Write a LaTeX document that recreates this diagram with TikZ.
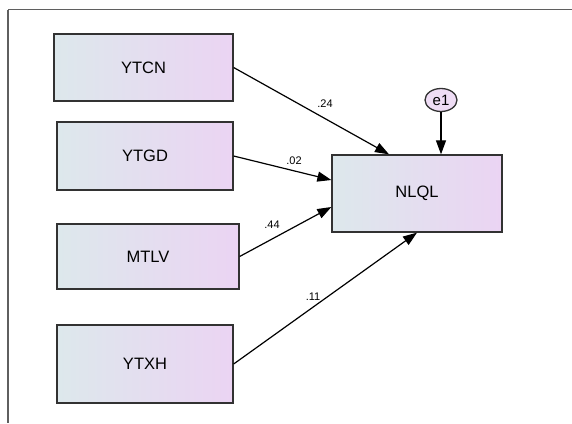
\documentclass[tikz,border=0pt]{standalone}
\usepackage{fontspec}
\setmainfont{Liberation Sans}
\usetikzlibrary{arrows.meta,shapes.geometric}
\definecolor{shadeL}{RGB}{221,232,236}
\definecolor{shadeR}{RGB}{235,212,243}
\definecolor{edgegray}{RGB}{50,50,50}
\definecolor{framegray}{RGB}{95,95,95}
\tikzset{
  varbox/.style={draw=edgegray, line width=1.3pt, left color=shadeL, right color=shadeR,
    shading angle=90, inner sep=0pt, font=\fontsize{16.5}{18}\selectfont},
  errnode/.style={ellipse, draw=edgegray, line width=1.3pt, fill=shadeR!80!white,
    minimum width=32pt, minimum height=23pt, inner sep=0pt, font=\fontsize{15}{16}\selectfont},
  path/.style={line width=1.2pt, -{Triangle[length=14pt,width=10pt]}},
  coef/.style={font=\fontsize{11}{12}\selectfont}
}
\begin{document}
\begin{tikzpicture}[x=1pt,y=-1pt]
\useasboundingbox (0,0) rectangle (572,423);
% frame lines
\draw[framegray, line width=1.5pt] (8,9.5) coordinate (fa) -- (572,9.5) coordinate (fb);
\draw[framegray, line width=1.2pt] (8,9.5) -- (8,423);
% observed variables
\node[varbox, minimum width=179pt, minimum height=67pt] (ytcn) at (143.5,67.5) {YTCN};
\node[varbox, minimum width=176pt, minimum height=68pt] (ytgd) at (145,156) {YTGD};
\node[varbox, minimum width=182pt, minimum height=65pt] (mtlv) at (148,256.5) {MTLV};
\node[varbox, minimum width=176pt, minimum height=78pt] (ytxh) at (145,364) {YTXH};
\node[varbox, minimum width=170pt, minimum height=77pt] (nlql) at (417,193.5) {NLQL};
\node[errnode] (e1) at (441,100) {e1};
% regression paths
\draw[path] (ytcn.east) -- ([xshift=-28pt]nlql.north);
\draw[path] (ytgd.east) -- ([yshift=13.5pt]nlql.west);
\draw[path] (mtlv.east) -- ([yshift=-13.5pt]nlql.west);
\draw[path] (ytxh.east) -- (nlql.south);
\draw[path] (e1.south) -- (nlql.north -| e1.south);
% coefficients
\node[coef] (c1) at (325,104) {.24};
\node[coef] (c2) at (294,161) {.02};
\node[coef] (c3) at (272,225) {.44};
\node[coef] (c4) at (313,297) {.11};
\end{tikzpicture}
\end{document}
